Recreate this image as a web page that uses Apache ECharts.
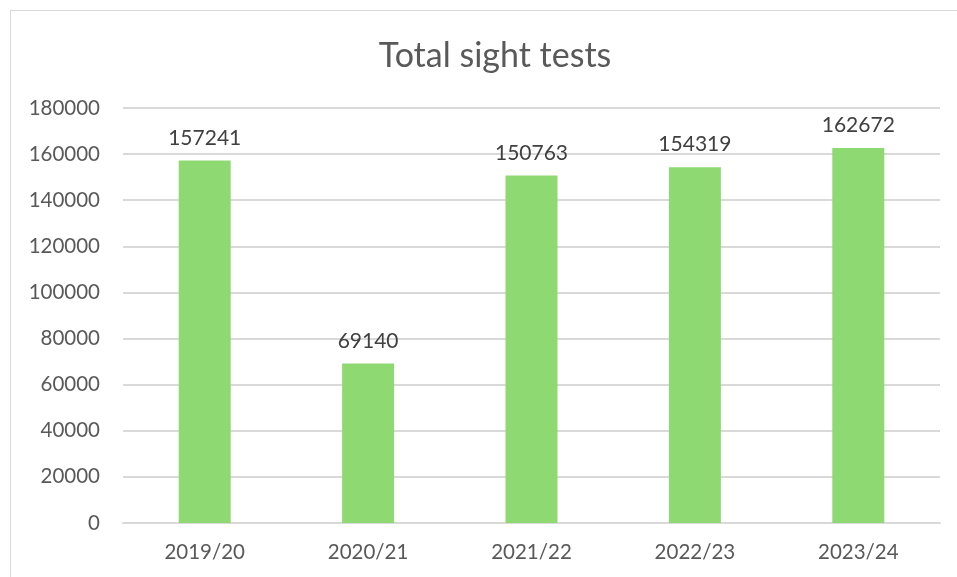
<!DOCTYPE html>
<html>
<head>
<meta charset="UTF-8">
<title>Total sight tests</title>
<script src="https://cdn.jsdelivr.net/npm/echarts@6/dist/echarts.min.js"></script>
<style>
  html, body { margin: 0; padding: 0; background: #fff; overflow: hidden; }
  #frame { position: absolute; left: 10px; top: 10px; width: 980px; height: 600px; border: 1px solid #d9d9d9; box-sizing: border-box; }
  #chart { position: absolute; left: 0; top: 0; width: 957px; height: 577px; }
</style>
</head>
<body>
<div id="frame"></div>
<div id="chart"></div>
<script>
// data
var years = ['2019/20', '2020/21', '2021/22', '2022/23', '2023/24'];
var sightTests = [157241, 69140, 150763, 154319, 162672];

var textColor = '#595959';
var chart = echarts.init(document.getElementById('chart'));
chart.setOption({
    animation: false,
    title: {
        text: 'Total sight tests',
        left: 490,
        textAlign: 'center',
        top: 34,
        textStyle: { fontFamily: 'Lato', fontSize: 34, fontWeight: 'normal', color: textColor }
    },
    grid: { left: 123, right: 17, top: 108, bottom: 54 },
    xAxis: {
        type: 'category',
        data: years,
        axisLine: { lineStyle: { color: '#d9d9d9', width: 2 } },
        axisTick: { show: false },
        axisLabel: { color: textColor, fontFamily: 'Lato', fontSize: 20.5, margin: 19 }
    },
    yAxis: {
        type: 'value',
        min: 0,
        max: 180000,
        interval: 20000,
        axisLine: { show: false },
        axisTick: { show: false },
        splitLine: { lineStyle: { color: '#d9d9d9', width: 2 } },
        axisLabel: {
            color: textColor, fontFamily: 'Lato', fontSize: 20.5, margin: 23,
            formatter: function (v) { return String(v); }
        }
    },
    series: [{
        type: 'bar',
        data: sightTests,
        barWidth: 52,
        itemStyle: { color: '#8fd973' },
        label: {
            show: true,
            position: 'top',
            distance: 12,
            color: '#404040',
            fontFamily: 'Lato',
            fontSize: 21
        }
    }]
});
</script>
</body>
</html>
